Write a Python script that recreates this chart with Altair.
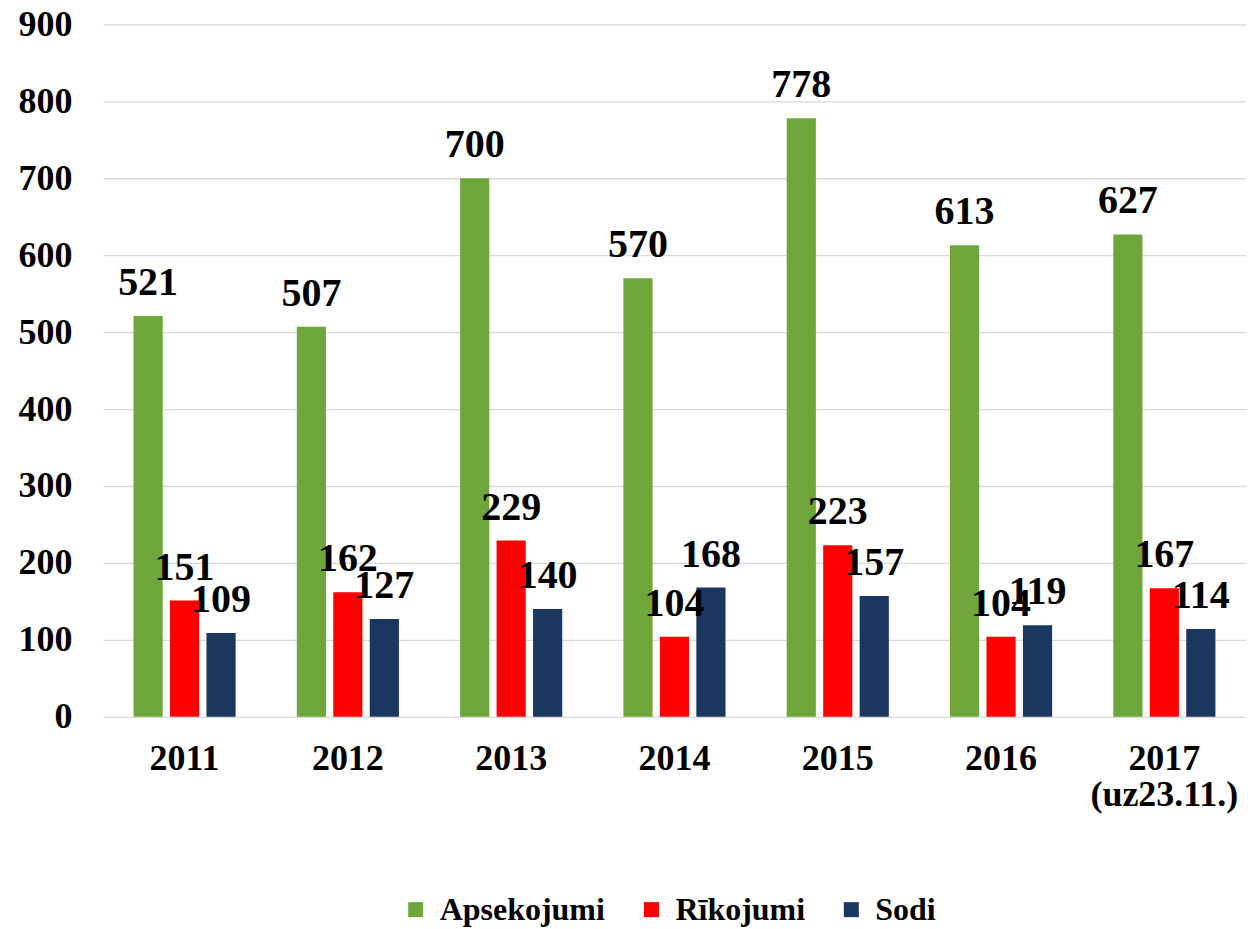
import altair as alt
import pandas as pd

years = ["2011", "2012", "2013", "2014", "2015", "2016", "2017 (uz23.11.)"]
series = ["Apsekojumi", "Rīkojumi", "Sodi"]
apsekojumi = [521, 507, 700, 570, 778, 613, 627]
rikojumi = [151, 162, 229, 104, 223, 104, 167]
sodi = [109, 127, 140, 168, 157, 119, 114]
colors = ["#6FA63B", "#FF0000", "#1A375F"]
y_ticks = [0, 100, 200, 300, 400, 500, 600, 700, 800, 900]

rows = []
for i, yr in enumerate(years):
    for s, vals in zip(series, [apsekojumi, rikojumi, sodi]):
        rows.append({"Gads": yr, "Rādītājs": s, "Vērtība": vals[i]})
df = pd.DataFrame(rows)

FONT = "Liberation Serif"

x = alt.X(
    "Gads:N",
    sort=years,
    scale=alt.Scale(paddingInner=0.33, paddingOuter=0.165),
    axis=alt.Axis(
        title=None,
        labelAngle=0,
        labelExpr="datum.value == '2017 (uz23.11.)' ? ['2017', '(uz23.11.)'] : datum.label",
        ticks=False,
        domain=False,
        labelPadding=25,
        labelFontSize=36,
        labelFont=FONT,
        labelFontWeight="bold",
        labelColor="#000000",
        labelLineHeight=36,
    ),
)
xoff = alt.XOffset("Rādītājs:N", sort=series, scale=alt.Scale(paddingInner=0.2, paddingOuter=0.1))
y = alt.Y(
    "Vērtība:Q",
    scale=alt.Scale(domain=[0, 900]),
    axis=alt.Axis(
        title=None,
        values=y_ticks,
        grid=True,
        gridColor="#D9D9D9",
        gridWidth=1.3,
        domain=False,
        ticks=False,
        labelPadding=31,
        labelFontSize=36,
        labelFont=FONT,
        labelFontWeight="bold",
        labelColor="#000000",
    ),
)

bars = alt.Chart(df).mark_bar().encode(
    x=x,
    xOffset=xoff,
    y=y,
    color=alt.Color(
        "Rādītājs:N",
        sort=series,
        scale=alt.Scale(domain=series, range=colors),
        legend=alt.Legend(
            title=None,
            orient="none",
            legendX=297,
            legendY=870,
            direction="horizontal",
            symbolType="square",
            symbolSize=225,
            symbolStrokeWidth=0,
            labelFontSize=32,
            labelFont=FONT,
            labelFontWeight="bold",
            labelColor="#000000",
            labelOffset=8,
            labelLimit=0,
            columnPadding=30,
            padding=0,
        ),
    ),
)

labels = alt.Chart(df).mark_text(
    font=FONT, fontWeight="bold", fontSize=40, color="#000000", baseline="alphabetic", dy=-21
).encode(
    x=alt.X("Gads:N", sort=years),
    xOffset=alt.XOffset("Rādītājs:N", sort=series),
    y=alt.Y("Vērtība:Q"),
    text=alt.Text("Vērtība:Q"),
)

chart = (
    alt.layer(bars, labels)
    .properties(
        width=1144,
        height=693,
        autosize=alt.AutoSizeParams(type="none"),
        padding={"left": 95, "top": 16, "right": 5, "bottom": 210},
    )
    .configure_view(stroke=None)
)

chart.save("out.html", embed_options={"renderer": "svg", "actions": False})
